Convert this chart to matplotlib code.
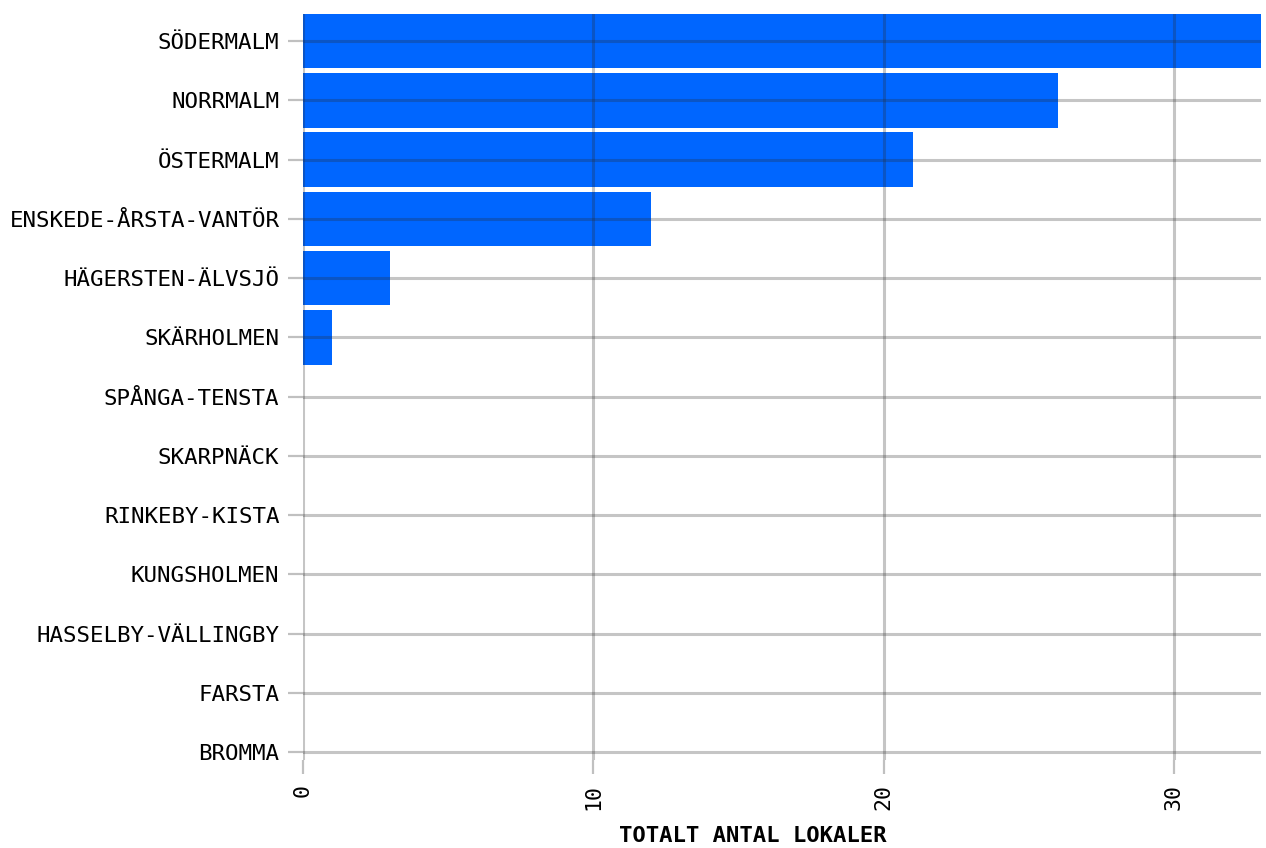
import matplotlib
matplotlib.use("Agg")
from matplotlib import pyplot as plt
import numpy as np

# Data
stadsdelar = ["SÖDERMALM", "NORRMALM", "ÖSTERMALM", "ENSKEDE-ÅRSTA-VANTÖR",
              "HÄGERSTEN-ÄLVSJÖ", "SKÄRHOLMEN", "SPÅNGA-TENSTA", "SKARPNÄCK",
              "RINKEBY-KISTA", "KUNGSHOLMEN", "HASSELBY-VÄLLINGBY", "FARSTA",
              "BROMMA"]
antal = [33, 26, 21, 12, 3, 1, 0, 0, 0, 0, 0, 0, 0]
xticks = [0, 10, 20, 30]

plt.rcParams['font.family'] = ['DejaVu Sans Mono']

fig = plt.figure(figsize=(12.66, 8.48), dpi=100)
ax = fig.add_axes([303 / 1266, 1 - 760 / 848, (1261 - 303) / 1266, (760 - 14) / 848])

y = np.arange(len(stadsdelar))
ax.barh(y, antal, height=0.92, color="#0066ff", zorder=1)

ax.set_xlim(0, 33)
ax.set_ylim(len(stadsdelar) - 1 + 0.135, -0.456)
ax.set_yticks(y)
ax.set_yticklabels(stadsdelar, fontsize=16.2)
ax.set_xticks(xticks)
ax.set_xticklabels([str(t) for t in xticks], fontsize=15.5, rotation=90)

ax.grid(True, color="#2a2a2a", alpha=0.27, linewidth=2.2, zorder=3)
ax.set_axisbelow(False)
for s in ax.spines.values():
    s.set_visible(False)
ax.tick_params(axis="y", length=11, width=1.6, color="#c0c0c0", pad=6)
ax.tick_params(axis="x", length=10, width=1.6, color="#c0c0c0", pad=7)

ax.set_xlabel("TOTALT ANTAL LOKALER", fontsize=16, fontweight="bold")
ax.xaxis.set_label_coords(0.469, -0.088)

plt.savefig("out.png", dpi=100)
